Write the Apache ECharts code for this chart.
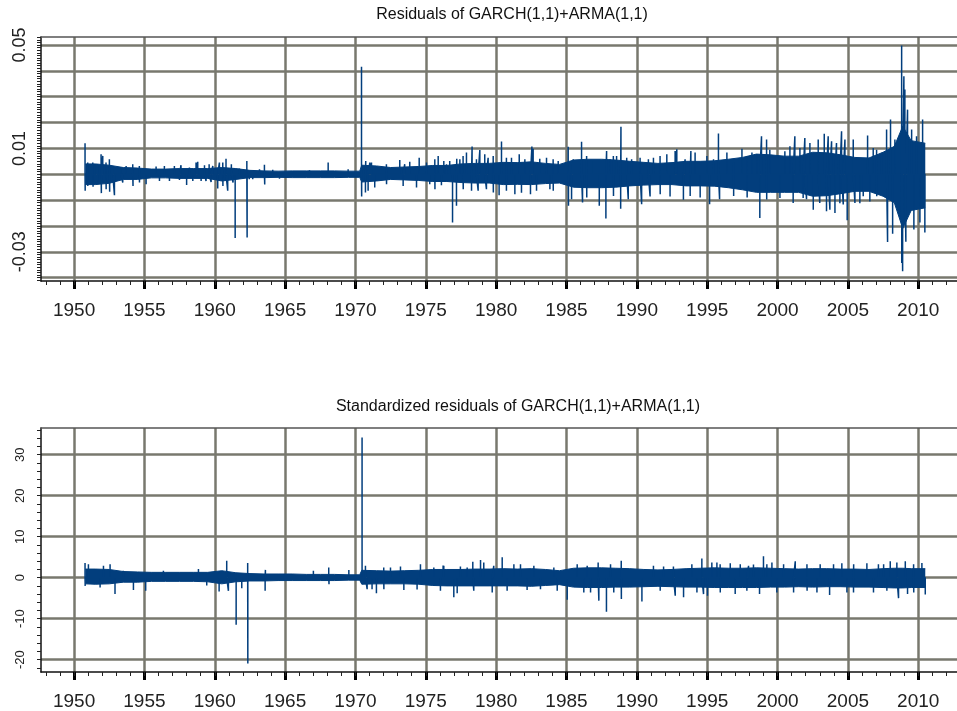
<!DOCTYPE html>
<html>
<head>
<meta charset="utf-8">
<title>GARCH(1,1)+ARMA(1,1) residuals</title>
<script src="https://cdn.jsdelivr.net/npm/echarts@6/dist/echarts.min.js"></script>
<style>
  html, body { margin: 0; padding: 0; background: #fff; }
  #main { width: 957px; height: 711px; }
</style>
</head>
<body>
<div id="main"></div>
<script>
// x positions (decimal year) of the dense band envelope
var bandYears = [1950.8, 1951.5, 1952.5, 1953.5, 1954.5, 1955.5, 1956.5, 1957.5, 1958.5, 1959.5,
  1960.5, 1961.5, 1962.5, 1963.5, 1964.5, 1965.5, 1966.5, 1967.5, 1968.5, 1969.5,
  1970.3, 1970.45, 1971.5, 1972.5, 1973.5, 1974.5, 1975.5, 1976.5, 1977.5, 1978.5, 1979.5,
  1980.5, 1981.5, 1982.5, 1983.5, 1984.5, 1985.5, 1986.5, 1987.5, 1988.5, 1989.5,
  1990.5, 1991.5, 1992.5, 1993.5, 1994.5, 1995.5, 1996.5, 1997.5, 1998.5, 1999.5,
  2000.5, 2001.5, 2002.5, 2003.5, 2004.5, 2005.5, 2006.5, 2007.5, 2008.3, 2008.9, 2009.5, 2010.5];

// residuals: upper / lower edge of the solid band
var resHigh = [0.0040, 0.0040, 0.0035, 0.0026, 0.0024, 0.0020, 0.0020, 0.0022, 0.0022, 0.0022,
  0.0026, 0.0022, 0.0015, 0.0013, 0.0012, 0.0013, 0.0013, 0.0013, 0.0013, 0.0012,
  0.0012, 0.0035, 0.0032, 0.0026, 0.0028, 0.0030, 0.0034, 0.0034, 0.0040, 0.0042, 0.0042,
  0.0046, 0.0045, 0.0048, 0.0042, 0.0038, 0.0055, 0.0058, 0.0058, 0.0055, 0.0050,
  0.0046, 0.0042, 0.0045, 0.0050, 0.0050, 0.0052, 0.0058, 0.0065, 0.0078, 0.0075,
  0.0070, 0.0070, 0.0085, 0.0083, 0.0075, 0.0065, 0.0063, 0.0085, 0.0108, 0.0186, 0.0130, 0.0120];
var resLow = [-0.0040, -0.0040, -0.0035, -0.0020, -0.0020, -0.0014, -0.0014, -0.0016, -0.0016, -0.0016,
  -0.0026, -0.0020, -0.0013, -0.0013, -0.0012, -0.0013, -0.0013, -0.0013, -0.0013, -0.0012,
  -0.0012, -0.0030, -0.0026, -0.0020, -0.0022, -0.0024, -0.0028, -0.0028, -0.0032, -0.0034, -0.0034,
  -0.0040, -0.0039, -0.0040, -0.0036, -0.0034, -0.0050, -0.0052, -0.0052, -0.0050, -0.0045,
  -0.0042, -0.0040, -0.0040, -0.0045, -0.0045, -0.0046, -0.0052, -0.0060, -0.0070, -0.0070,
  -0.0070, -0.0070, -0.0085, -0.0083, -0.0075, -0.0066, -0.0066, -0.0085, -0.0110, -0.0210, -0.0140, -0.0130];

// residuals: large single spikes [year, value]
var resSpikes = [
  [1950.78, 0.0120], [1950.79, -0.0064], [1951.33, 0.0045], [1951.35, -0.0048], [1951.57, 0.0039],
  [1951.92, 0.0077], [1951.94, -0.0073], [1952.04, 0.0071], [1952.51, 0.0058], [1952.53, -0.0068],
  [1952.87, -0.0081], [1954.17, 0.0039], [1954.19, -0.0045], [1955.12, -0.0039], [1956.42, 0.0032],
  [1957.60, 0.0035], [1958.00, -0.0042], [1958.67, 0.0045], [1958.79, 0.0048], [1959.03, -0.0026],
  [1959.38, -0.0026], [1959.60, 0.0039], [1960.21, -0.0055], [1960.33, 0.0045], [1960.80, 0.0060],
  [1960.92, -0.0064], [1961.18, 0.0039], [1961.30, -0.0032], [1961.45, -0.0247], [1962.28, 0.0051],
  [1962.30, -0.0245], [1962.45, -0.0019], [1963.53, 0.0037], [1963.55, -0.0040], [1968.06, 0.0045],
  [1969.48, 0.0019], [1970.43, 0.0416], [1970.44, -0.0086], [1970.71, -0.0071], [1970.73, 0.0051],
  [1971.02, 0.0045], [1971.37, -0.0051], [1973.15, 0.0055], [1973.50, 0.0039], [1974.34, -0.0051],
  [1974.53, 0.0064], [1975.88, 0.0071], [1976.11, -0.0043], [1976.28, 0.0051], [1976.47, 0.0039],
  [1976.90, -0.0187], [1977.18, -0.0122], [1977.20, 0.0060], [1977.89, 0.0084], [1978.29, 0.0107],
  [1978.72, -0.0064], [1978.84, 0.0094], [1979.19, 0.0077], [1979.31, -0.0058], [1979.43, 0.0064],
  [1980.21, -0.0081], [1980.38, 0.0127], [1980.73, 0.0064], [1981.64, 0.0077], [1981.80, -0.0072],
  [1982.44, -0.0077], [1982.54, 0.0107], [1982.63, 0.0099], [1983.10, 0.0060], [1983.82, -0.0058],
  [1984.41, 0.0051], [1985.12, 0.0106], [1985.14, -0.0122], [1986.07, 0.0126], [1986.14, -0.0109],
  [1987.33, -0.0122], [1987.80, -0.0171], [1987.85, 0.0090], [1988.56, 0.0071], [1988.85, -0.0133],
  [1988.87, 0.0184], [1989.28, 0.0064], [1990.34, -0.0116], [1990.82, 0.0058], [1991.65, 0.0071],
  [1992.13, 0.0077], [1992.84, 0.0097], [1993.31, -0.0099], [1993.84, 0.0090], [1994.14, 0.0084],
  [1994.50, -0.0090], [1995.17, -0.0116], [1995.80, 0.0158], [1995.88, -0.0097], [1996.40, 0.0084],
  [1996.88, 0.0045], [1997.47, 0.0099], [1998.18, 0.0084], [1998.74, -0.0169], [1998.86, 0.0147],
  [2001.23, 0.0147], [2001.94, 0.0140], [2002.06, -0.0097], [2002.54, -0.0137], [2003.32, 0.0157],
  [2003.48, -0.0143], [2003.60, 0.0147], [2004.08, -0.0150], [2004.43, -0.0112], [2004.55, 0.0166],
  [2004.79, 0.0134], [2004.95, -0.0178], [2005.85, -0.0112], [2006.40, 0.0150], [2006.56, -0.0105],
  [2007.04, 0.0095], [2007.75, 0.0173], [2007.82, -0.0262], [2008.03, 0.0212], [2008.18, -0.0230],
  [2008.34, 0.0134], [2008.82, 0.0498], [2008.83, -0.0343], [2008.89, -0.0375], [2008.98, 0.0379],
  [2009.05, 0.0328], [2009.12, -0.0261], [2009.24, 0.0250], [2009.53, 0.0173], [2009.69, -0.0214],
  [2009.88, 0.0147], [2010.12, -0.0187], [2010.31, 0.0212], [2010.47, -0.0225]
];
// residuals: smaller spikes just outside the band edge
var resSmallSpikes = [
  [1950.97, 0.0045], [1950.98, -0.0045], [1951.68, 0.0039], [1951.69, -0.0039], [1952.27, 0.0045],
  [1952.28, -0.0058], [1952.75, 0.0032], [1953.34, 0.0026], [1953.46, -0.0032], [1953.70, 0.0032],
  [1954.64, 0.0032], [1954.65, -0.0032], [1955.83, 0.0030], [1956.07, -0.0026], [1956.78, -0.0026],
  [1957.13, 0.0032], [1957.49, -0.0022], [1958.20, 0.0026], [1958.44, -0.0026], [1959.27, 0.0035],
  [1959.74, -0.0030], [1959.86, 0.0032], [1960.57, 0.0045], [1960.58, -0.0045], [1961.75, 0.0022],
  [1962.70, -0.0019], [1963.18, 0.0019], [1964.12, 0.0017], [1964.60, -0.0017], [1965.55, 0.0013],
  [1966.73, 0.0015],
  [1970.90, -0.0064], [1971.14, 0.0045], [1972.20, 0.0039], [1972.21, -0.0039], [1973.39, -0.0045],
  [1973.86, 0.0048], [1975.05, 0.0045], [1975.28, -0.0039], [1975.64, 0.0058], [1975.65, -0.0058],
  [1976.70, 0.0051], [1977.42, 0.0058], [1977.65, 0.0071], [1977.66, -0.0058], [1978.25, -0.0064],
  [1978.60, 0.0058], [1979.79, 0.0071], [1979.80, -0.0071], [1980.73, -0.0064], [1981.09, 0.0064],
  [1981.33, -0.0077], [1982.04, 0.0058], [1982.87, -0.0064], [1983.58, 0.0064], [1984.05, 0.0058],
  [1984.06, -0.0064],
  [1985.36, -0.0097], [1985.48, 0.0058], [1986.43, 0.0071], [1986.44, -0.0090], [1986.90, 0.0051],
  [1988.09, 0.0058], [1988.33, 0.0071], [1988.34, -0.0084], [1989.39, -0.0097], [1989.63, 0.0058],
  [1990.23, 0.0064], [1990.94, -0.0086], [1991.18, 0.0064], [1991.66, -0.0077], [1992.36, -0.0086],
  [1992.72, 0.0090], [1993.43, 0.0058], [1993.79, -0.0084], [1994.98, 0.0071], [1995.45, 0.0058],
  [1996.88, -0.0084], [1997.83, 0.0071], [1997.84, -0.0090], [1998.54, 0.0077],
  [1999.22, 0.0134], [1999.23, -0.0098], [1999.45, 0.0095], [2000.17, -0.0092], [2000.52, 0.0089],
  [2000.88, 0.0108], [2001.11, -0.0111], [2001.59, 0.0102], [2001.82, -0.0092], [2002.30, 0.0121],
  [2002.89, 0.0134], [2003.00, -0.0111], [2003.72, -0.0137], [2003.84, 0.0128], [2004.19, 0.0121],
  [2004.67, -0.0117], [2005.38, 0.0134], [2005.50, -0.0111], [2006.09, -0.0085], [2006.80, 0.0102],
  [2007.05, -0.0085], [2007.39, 0.0083]
];

// standardized residuals: band edges
var stdHigh = [2.1, 2.1, 2.0, 1.5, 1.4, 1.3, 1.3, 1.3, 1.3, 1.3,
  1.7, 1.2, 1.0, 0.9, 0.9, 0.9, 0.8, 0.8, 0.8, 0.7,
  0.7, 1.8, 1.7, 1.6, 1.7, 1.8, 2.0, 2.0, 2.0, 2.1, 2.1,
  2.2, 2.1, 2.2, 2.0, 1.7, 2.3, 2.4, 2.4, 2.3, 2.2,
  2.0, 1.9, 2.0, 2.2, 2.3, 2.4, 2.3, 2.3, 2.4, 2.3,
  2.2, 2.1, 2.2, 2.2, 2.1, 2.1, 2.0, 2.2, 2.3, 2.3, 2.2, 2.2];
var stdLow = [-1.5, -1.6, -1.5, -1.1, -1.1, -0.9, -0.9, -0.9, -0.9, -1.0,
  -1.5, -1.0, -0.8, -0.8, -0.7, -0.7, -0.7, -0.7, -0.7, -0.6,
  -0.6, -1.6, -1.5, -1.5, -1.5, -1.6, -1.9, -2.0, -2.0, -2.0, -2.0,
  -2.0, -2.0, -2.1, -1.9, -1.7, -2.3, -2.4, -2.4, -2.3, -2.3,
  -2.2, -2.1, -2.2, -2.3, -2.3, -2.4, -2.4, -2.4, -2.4, -2.3,
  -2.3, -2.2, -2.3, -2.2, -2.2, -2.3, -2.3, -2.4, -2.5, -2.5, -2.4, -2.4];

var stdSpikes = [
  [1950.78, 3.6], [1950.79, -2.0], [1951.02, 3.3], [1951.85, -2.4], [1952.09, 2.9], [1952.56, 3.3],
  [1952.91, -4.0], [1953.50, 1.7], [1954.22, -3.0], [1955.09, -3.2], [1956.35, 1.7], [1958.84, 2.1],
  [1959.43, -1.9], [1960.31, -3.4], [1960.85, 4.1], [1960.97, -3.2], [1961.52, -11.5], [1961.92, -2.6],
  [1962.34, 3.6], [1962.35, -20.9], [1963.58, -3.2], [1963.60, 1.9], [1967.01, 1.7], [1968.10, 2.5],
  [1968.12, -1.6], [1969.53, 1.9], [1970.47, 34.2], [1970.71, 2.9], [1970.83, -2.8], [1971.18, -2.8],
  [1971.49, -3.8], [1972.49, 2.5], [1974.38, -2.9], [1974.62, 3.3], [1976.23, 3.0], [1976.99, -4.8],
  [1977.23, -3.8], [1977.94, 2.5], [1978.34, 3.9], [1978.89, 4.3], [1979.12, 3.7], [1979.72, -3.6],
  [1980.43, 5.0], [1981.73, 3.3], [1982.68, 2.9], [1984.34, -3.2], [1985.05, -5.4], [1985.76, 3.3],
  [1986.23, -3.6], [1987.25, 3.7], [1987.30, -5.6], [1987.84, -8.3], [1988.89, 4.1], [1988.90, -5.2],
  [1990.36, -5.8], [1991.90, 2.7], [1992.73, -4.4], [1993.32, -4.8], [1993.91, 3.3], [1994.62, 4.7],
  [1994.74, -4.0], [1995.02, -4.4], [1995.33, 3.7], [1995.92, 3.3], [1996.99, -4.0], [1997.94, 2.9],
  [1998.72, -4.0], [1999.00, 5.2], [1999.24, 3.3], [1999.95, -3.6], [2001.26, 4.0], [2002.09, 3.3],
  [2002.80, -3.6], [2003.70, -4.2], [2003.98, 3.3], [2004.57, 3.5], [2005.40, -3.6], [2007.17, 3.3],
  [2008.01, 4.0], [2008.60, -5.0], [2009.08, 4.0], [2009.24, -4.0], [2010.26, 3.6], [2010.50, -4.1]
];
var stdSmallSpikes = [
  [1972.01, 2.5], [1972.02, -2.8], [1973.20, 2.7], [1973.44, -3.0], [1975.57, 2.5], [1976.04, -3.2],
  [1976.28, 2.9], [1977.46, 2.7], [1978.41, -3.2], [1979.83, 2.9], [1980.78, -3.2], [1981.26, 3.3],
  [1982.20, -3.0], [1983.15, -2.8], [1984.10, 2.5], [1986.47, 2.9], [1986.71, -3.6], [1988.13, 3.3],
  [1988.36, -3.6], [1991.18, 2.9], [1991.66, -3.2], [1992.60, 2.7], [1994.27, -3.6], [1995.69, 3.7],
  [1995.93, -3.6], [1996.64, 3.5], [1997.35, 3.3], [1997.82, -3.2], [1998.29, 3.2], [1999.60, 3.7],
  [2000.43, 3.3], [2001.14, -3.6], [2002.10, -3.2], [2003.03, 3.3], [2004.93, -3.6], [2005.41, 3.3],
  [2006.35, 3.5], [2006.82, -3.6], [2007.54, 3.3], [2007.77, -3.2], [2008.48, 3.7], [2009.67, 3.3],
  [2009.68, -3.6]
];

// axis ticks / labels
var majorYears = [1950, 1955, 1960, 1965, 1970, 1975, 1980, 1985, 1990, 1995, 2000, 2005, 2010];
var resGridValues = [-0.04, -0.03, -0.02, -0.01, 0, 0.01, 0.02, 0.03, 0.04, 0.05];
var resLabelValues = [-0.03, 0.01, 0.05];
var stdGridValues = [-20, -10, 0, 10, 20, 30];

var X_MIN = 1947.65, X_MAX = 2013.75;
var LINE_COLOR = '#023e7d';
var GRID_COLOR = '#78786e';
var FONT = 'Liberation Sans, Arial, sans-serif';

var minorYears = [];
for (var yr = 1948; yr <= 2013; yr++) minorYears.push(yr);
var resMinor = [];
for (var k = -41; k <= 53; k++) resMinor.push(k / 1000);
var stdMinor = [];
for (var m = -22; m <= 36; m += 2) stdMinor.push(m);

function bandData(hi) {
  return bandYears.map(function (t, i) { return [t, hi[i]]; });
}
// each spike: baseline -> value -> baseline
function spikeData(spikes) {
  var pts = [];
  spikes.slice().sort(function (a, b) { return a[0] - b[0]; }).forEach(function (s) {
    pts.push([s[0], 0], [s[0], s[1]], [s[0], 0]);
  });
  return pts;
}

function xAxes(g) {
  return [
    { // labels, thick ticks, vertical grid
      type: 'value', gridIndex: g, position: 'bottom', min: X_MIN, max: X_MAX,
      axisLine: { show: true, onZero: false, lineStyle: { color: '#111', width: 1.5 } },
      axisTick: { show: true, customValues: majorYears, length: 8, lineStyle: { color: '#000', width: 3 } },
      axisLabel: { customValues: majorYears, margin: 20, fontSize: 19, fontFamily: FONT, color: '#222',
        formatter: function (v) { return String(v); } },
      splitLine: { show: true, lineStyle: { color: GRID_COLOR, width: 2.5 } }
    },
    { // yearly minor ticks
      type: 'value', gridIndex: g, position: 'bottom', min: X_MIN, max: X_MAX,
      axisLine: { show: false, onZero: false },
      axisTick: { show: true, customValues: minorYears, length: 4, lineStyle: { color: '#222', width: 1 } },
      axisLabel: { show: false }, splitLine: { show: false }
    },
    { // frame on top
      type: 'value', gridIndex: g, position: 'top', min: X_MIN, max: X_MAX,
      axisLine: { show: true, onZero: false, lineStyle: { color: '#555', width: 1.5 } },
      axisTick: { show: false }, axisLabel: { show: false }, splitLine: { show: false }
    }
  ];
}

function yAxes(g, min, max, gridVals, labelVals, minorVals, fontSize, fmt) {
  return [
    {
      type: 'value', gridIndex: g, position: 'left', min: min, max: max,
      axisLine: { show: true, onZero: false, lineStyle: { color: '#111', width: 1.5 } },
      axisTick: { show: false, customValues: gridVals },
      axisLabel: { customValues: labelVals, rotate: 90, margin: 21, fontSize: fontSize, fontFamily: FONT,
        color: '#222', align: 'center', verticalAlign: 'middle', formatter: fmt },
      splitLine: { show: true, lineStyle: { color: GRID_COLOR, width: 2.5 } }
    },
    {
      type: 'value', gridIndex: g, position: 'left', min: min, max: max,
      axisLine: { show: false, onZero: false },
      axisTick: { show: true, customValues: minorVals, length: 4, lineStyle: { color: '#222', width: 1 } },
      axisLabel: { show: false }, splitLine: { show: false }
    }
  ];
}

function seriesFor(xi, yi, hi, lo, spikes) {
  var base = { type: 'line', xAxisIndex: xi, yAxisIndex: yi, showSymbol: false, symbol: 'none',
    lineStyle: { color: LINE_COLOR, width: 1 }, itemStyle: { color: LINE_COLOR } };
  return [
    Object.assign({}, base, { data: bandData(hi), areaStyle: { color: LINE_COLOR, opacity: 1 } }),
    Object.assign({}, base, { data: bandData(lo), areaStyle: { color: LINE_COLOR, opacity: 1 } }),
    Object.assign({}, base, { data: spikeData(spikes), lineStyle: { color: LINE_COLOR, width: 1.5 } })
  ];
}

var myChart = echarts.init(document.getElementById('main'), null, { renderer: 'canvas' });
var option = {
  animation: false,
  backgroundColor: '#fff',
  graphic: [
    { type: 'text', x: 512, y: 15, style: { text: 'Residuals of GARCH(1,1)+ARMA(1,1)', align: 'center',
      verticalAlign: 'middle', fontSize: 16, fontFamily: FONT, fill: '#111' } },
    { type: 'text', x: 518, y: 407, style: { text: 'Standardized residuals of GARCH(1,1)+ARMA(1,1)', align: 'center',
      verticalAlign: 'middle', fontSize: 16, fontFamily: FONT, fill: '#111' } }
  ],
  grid: [
    { left: 41, top: 37, width: 930, height: 244, outerBoundsMode: 'none', containLabel: false },
    { left: 41, top: 428, width: 930, height: 244, outerBoundsMode: 'none', containLabel: false }
  ],
  xAxis: xAxes(0).concat(xAxes(1)),
  yAxis: yAxes(0, -0.0413, 0.0531, resGridValues, resLabelValues, resMinor, 18,
      function (v) { return v.toFixed(2); })
    .concat(yAxes(1, -23, 36.5, stdGridValues, stdGridValues, stdMinor, 13,
      function (v) { return String(v); })),
  series: seriesFor(0, 0, resHigh, resLow, resSpikes.concat(resSmallSpikes))
    .concat(seriesFor(3, 2, stdHigh, stdLow, stdSpikes.concat(stdSmallSpikes)))
};
myChart.setOption(option);
</script>
</body>
</html>
